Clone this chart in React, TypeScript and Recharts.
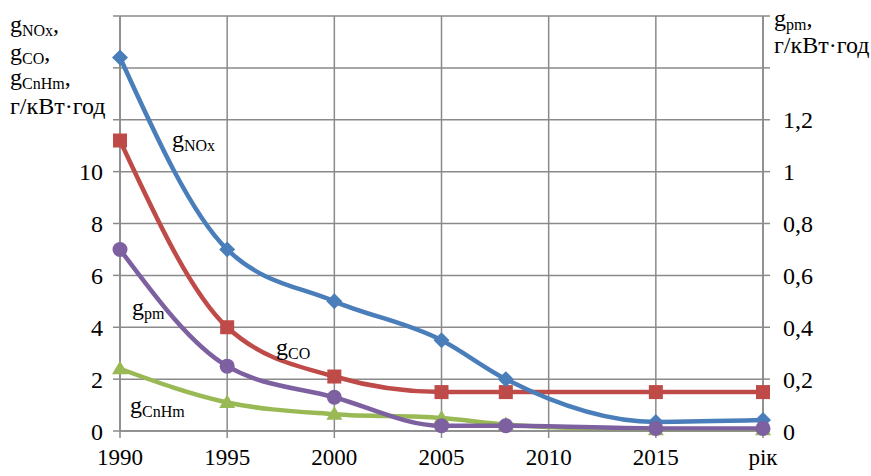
import { CartesianGrid, Line, LineChart, XAxis, YAxis } from "recharts"

const years = [1990, 1995, 2000, 2005, 2008, 2015, 2020]
const noxValues = [14.4, 7.0, 5.0, 3.5, 2.0, 0.35, 0.42]
const coValues = [11.2, 4.0, 2.1, 1.5, 1.5, 1.5, 1.5]
const cnhmValues = [2.4, 1.1, 0.65, 0.5, 0.25, 0.05, 0.05]
const pmValues = [0.7, 0.25, 0.13, 0.02, 0.02, 0.01, 0.01]

const xTicks = [1990, 1995, 2000, 2005, 2010, 2015, 2020]
const leftTicks = [0, 2, 4, 6, 8, 10, 12, 14, 16]
const rightTicks = [0, 0.2, 0.4, 0.6, 0.8, 1, 1.2, 1.4, 1.6]

const data = years.map((year, i) => ({
  year,
  nox: noxValues[i],
  co: coValues[i],
  cnhm: cnhmValues[i],
  pm: pmValues[i],
}))

const FONT = "Liberation Serif"
const GRID = "#8a8a8a"

const BLUE = "#4A7EBB"
const RED = "#BE4B48"
const GREEN = "#98B954"
const PURPLE = "#7D60A0"

const diamond = (props: any) => {
  const { cx, cy, key } = props
  const r = 8
  return <path key={key} d={`M${cx},${cy - r}L${cx + r},${cy}L${cx},${cy + r}L${cx - r},${cy}Z`} fill={BLUE} />
}

const square = (props: any) => {
  const { cx, cy, key } = props
  const r = 7
  return <rect key={key} x={cx - r} y={cy - r} width={r * 2} height={r * 2} fill={RED} />
}

const triangle = (props: any) => {
  const { cx, cy, key } = props
  const r = 8
  return <path key={key} d={`M${cx},${cy - r}L${cx + r},${cy + r * 0.7}L${cx - r},${cy + r * 0.7}Z`} fill={GREEN} />
}

const circle = (props: any) => {
  const { cx, cy, key } = props
  return <circle key={key} cx={cx} cy={cy} r={7.5} fill={PURPLE} />
}

function Sub({ x, y, main, sub, tail = "" }: { x: number; y: number; main: string; sub: string; tail?: string }) {
  return (
    <text x={x} y={y} style={{ fontFamily: FONT, fontSize: 24 }} fill="#000">
      <tspan>{main}</tspan>
      <tspan style={{ fontSize: 16 }} dy={4}>{sub}</tspan>
      {tail && <tspan dy={-4}>{tail}</tspan>}
    </text>
  )
}

const tickStyle = { fill: "#000", fontSize: 24, style: { fontFamily: FONT } }

export default function App() {
  return (
    <div style={{ position: "absolute", left: 0, top: 0, width: 871, height: 476, background: "#fff", fontFamily: FONT }}>
      <LineChart width={871} height={476} data={data} margin={{ top: 16, right: 48, bottom: 0, left: 60 }} style={{ fontFamily: FONT }}>
        <CartesianGrid yAxisId="left" stroke={GRID} strokeWidth={1.5} horizontalValues={leftTicks} verticalValues={xTicks} />
        <XAxis
          dataKey="year"
          type="number"
          domain={[1990, 2020]}
          ticks={xTicks}
          tickFormatter={(v: number) => (v === 2020 ? "рік" : String(v))}
          height={45}
          tickSize={7}
          tickMargin={11}
          axisLine={{ stroke: GRID, strokeWidth: 1.5 }}
          tickLine={{ stroke: GRID, strokeWidth: 1.5 }}
          tick={{ ...tickStyle, fontSize: 23 }}
          interval={0}
        />
        <YAxis
          yAxisId="left"
          domain={[0, 16]}
          ticks={leftTicks}
          tickFormatter={(v: number) => (v <= 10 ? String(v) : "")}
          width={60}
          tickSize={7}
          tickMargin={10}
          axisLine={{ stroke: GRID, strokeWidth: 1.5 }}
          tickLine={{ stroke: GRID, strokeWidth: 1.5 }}
          tick={tickStyle}
          interval={0}
        />
        <YAxis
          yAxisId="right"
          orientation="right"
          domain={[0, 1.6]}
          ticks={rightTicks}
          tickFormatter={(v: number) => (v <= 1.2 ? String(v).replace(".", ",") : "")}
          width={60}
          tickSize={7}
          tickMargin={13}
          axisLine={{ stroke: GRID, strokeWidth: 1.5 }}
          tickLine={{ stroke: GRID, strokeWidth: 1.5 }}
          tick={{ ...tickStyle, textAnchor: "start" }}
          interval={0}
        />
        <Line yAxisId="left" type="monotone" dataKey="co" stroke={RED} strokeWidth={4.5} dot={square} activeDot={false} isAnimationActive={false} />
        <Line yAxisId="left" type="monotone" dataKey="nox" stroke={BLUE} strokeWidth={4.5} dot={diamond} activeDot={false} isAnimationActive={false} />
        <Line yAxisId="left" type="monotone" dataKey="cnhm" stroke={GREEN} strokeWidth={4.5} dot={triangle} activeDot={false} isAnimationActive={false} />
        <Line yAxisId="right" type="monotone" dataKey="pm" stroke={PURPLE} strokeWidth={4.5} dot={circle} activeDot={false} isAnimationActive={false} />
      </LineChart>
      <svg width={871} height={476} style={{ position: "absolute", left: 0, top: 0, pointerEvents: "none" }}>
        <Sub x={10} y={32} main="g" sub="NOx" tail="," />
        <Sub x={10} y={60} main="g" sub="CO" tail="," />
        <Sub x={10} y={85} main="g" sub="CnHm" tail="," />
        <text x={10} y={114} style={{ fontFamily: FONT, fontSize: 24 }} fill="#000">г/кВт·год</text>
        <Sub x={774} y={26} main="g" sub="pm" tail="," />
        <text x={774} y={53} style={{ fontFamily: FONT, fontSize: 24 }} fill="#000">г/кВт·год</text>
        <Sub x={172} y={147} main="g" sub="NOx" />
        <Sub x={132} y={315} main="g" sub="pm" />
        <Sub x={276} y={355} main="g" sub="CO" />
        <Sub x={130} y={413} main="g" sub="CnHm" />
      </svg>
    </div>
  )
}
